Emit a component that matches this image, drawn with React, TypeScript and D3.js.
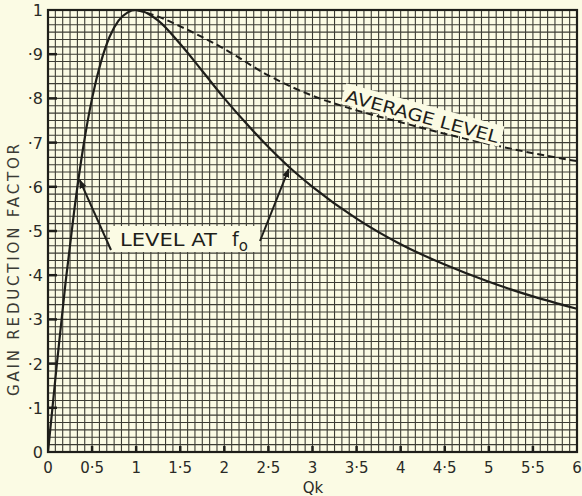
import React from "react";
import * as d3 from "d3";

const xTickValues = [0, 0.5, 1, 1.5, 2, 2.5, 3, 3.5, 4, 4.5, 5, 5.5, 6];
const xTickLabels = ["0", "0·5", "1", "1·5", "2", "2·5", "3", "3·5", "4", "4·5", "5", "5·5", "6"];
const yTickValues = [0, 0.1, 0.2, 0.3, 0.4, 0.5, 0.6, 0.7, 0.8, 0.9, 1];
const yTickLabels = ["0", "·1", "·2", "·3", "·4", "·5", "·6", "·7", "·8", "·9", "1"];

// Level at f0 (solid curve)
const levelQk = [0, 0.1, 0.2, 0.3, 0.4, 0.5, 0.6, 0.7, 0.8, 0.9, 1, 1.25, 1.5, 1.75, 2, 2.25, 2.5, 2.75, 3, 3.5, 4, 4.5, 5, 5.5, 6];
const levelVal = [0, 0.198, 0.385, 0.55, 0.69, 0.8, 0.882, 0.94, 0.976, 0.994, 1, 0.976, 0.923, 0.862, 0.8, 0.743, 0.69, 0.642, 0.6, 0.528, 0.47, 0.424, 0.385, 0.352, 0.324];

// Average level (dashed curve)
const avgQk = [1, 1.25, 1.5, 2, 2.5, 3, 3.5, 4, 4.5, 5, 5.5, 6];
const avgVal = [1, 0.985, 0.963, 0.912, 0.852, 0.806, 0.773, 0.746, 0.72, 0.697, 0.676, 0.658];

const W = 582;
const H = 496;
const L = 48, R = 577, T = 10, B = 452;
const BG = "#fbfbe4";
const INK = "#1e1e1a";

export default function App() {
  const x = d3.scaleLinear().domain([0, 6]).range([L, R]);
  const y = d3.scaleLinear().domain([0, 1]).range([B, T]);

  const gridX = d3.range(0, 73).map((i) => i / 12);
  const gridY = d3.range(0, 61).map((i) => i / 60);

  const line = d3
    .line<[number, number]>()
    .x((d) => x(d[0]))
    .y((d) => y(d[1]))
    .curve(d3.curveMonotoneX);

  const levelPts = levelQk.map((q, i) => [q, levelVal[i]] as [number, number]);
  const avgPts = avgQk.map((q, i) => [q, avgVal[i]] as [number, number]);

  const font = "'DejaVu Sans', sans-serif";

  const leftArrowTip: [number, number] = [x(0.36), y(0.615)];
  const rightArrowTip: [number, number] = [x(2.73), y(0.64)];

  const avgLabelPos: [number, number] = [x(4.23), y(0.748)];

  return (
    <svg
      width={W}
      height={H}
      style={{ position: "fixed", left: 0, top: 0, background: BG }}
      xmlns="http://www.w3.org/2000/svg"
    >
      <defs>
        <clipPath id="plot">
          <rect x={L} y={T} width={R - L} height={B - T} />
        </clipPath>
        <marker id="arrow" viewBox="0 0 10 10" refX="9" refY="5" markerWidth="9" markerHeight="9" orient="auto-start-reverse" markerUnits="userSpaceOnUse">
          <path d="M0,1 L10,5 L0,9 z" fill={INK} />
        </marker>
      </defs>
      <rect x={0} y={0} width={W} height={H} fill={BG} />

      {/* grid */}
      <g stroke="#3c3c34" strokeWidth={1.1}>
        {gridX.map((g, i) => (
          <line key={"gx" + i} x1={x(g)} x2={x(g)} y1={T} y2={B} />
        ))}
        {gridY.map((g, i) => (
          <line key={"gy" + i} x1={L} x2={R} y1={y(g)} y2={y(g)} />
        ))}
      </g>

      {/* border */}
      <rect x={L} y={T} width={R - L} height={B - T} fill="none" stroke={INK} strokeWidth={2.2} />

      {/* ticks */}
      <g stroke={INK} strokeWidth={2.5}>
        {xTickValues.slice(1, -1).map((v, i) => (
          <line key={"xt" + i} x1={x(v)} x2={x(v)} y1={B} y2={B - 6} />
        ))}
        {yTickValues.slice(1, -1).map((v, i) => (
          <line key={"yt" + i} x1={L} x2={L + 9} y1={y(v)} y2={y(v)} />
        ))}
      </g>

      {/* curves */}
      <g clipPath="url(#plot)" fill="none">
        <path d={line(levelPts) || ""} stroke={INK} strokeWidth={2.2} />
        <path d={line(avgPts) || ""} stroke={INK} strokeWidth={2} strokeDasharray="7 4" />
      </g>

      {/* tick labels */}
      <g fontFamily={font} fontSize={15} fill="#2a2a26">
        {xTickValues.map((v, i) => (
          <text key={"xl" + i} x={x(v)} y={473} textAnchor="middle">
            {xTickLabels[i]}
          </text>
        ))}
        {yTickValues.map((v, i) => (
          <text key={"yl" + i} x={43} y={y(v) + 6} textAnchor="end" fontSize={16}>
            {yTickLabels[i]}
          </text>
        ))}
      </g>

      {/* axis titles */}
      <text x={313} y={493} textAnchor="middle" fontFamily={font} fontSize={15} fill="#2a2a26">
        Qk
      </text>
      <text
        transform={`translate(19,270) rotate(-90)`}
        textAnchor="middle"
        fontFamily={font}
        fontSize={15}
        fill="#3a3a34"
        textLength={252}
        lengthAdjust="spacing"
      >
        GAIN REDUCTION FACTOR
      </text>

      {/* LEVEL AT f0 annotation */}
      <rect x={110} y={226} width={150} height={26} fill={BG} />
      <text x={120} y={246} fontFamily={font} fontSize={17} fill={INK} textLength={97} lengthAdjust="spacingAndGlyphs">
        LEVEL AT
      </text>
      <text x={232} y={246} fontFamily={font} fontSize={19} fill={INK}>
        f
        <tspan fontSize={15} dy={5}>o</tspan>
      </text>
      <line x1={111} y1={250} x2={leftArrowTip[0]} y2={leftArrowTip[1]} stroke={INK} strokeWidth={2} markerEnd="url(#arrow)" />
      <line x1={260} y1={241} x2={rightArrowTip[0]} y2={rightArrowTip[1]} stroke={INK} strokeWidth={2} markerEnd="url(#arrow)" />

      {/* AVERAGE LEVEL annotation */}
      <g transform={`translate(${avgLabelPos[0]},${avgLabelPos[1]}) rotate(15.3)`}>
        <rect x={-82} y={-17} width={164} height={21} fill={BG} />
        <text x={0} y={1} textAnchor="middle" fontFamily={font} fontSize={17} fill={INK} textLength={158} lengthAdjust="spacingAndGlyphs">
          AVERAGE LEVEL
        </text>
      </g>
    </svg>
  );
}
